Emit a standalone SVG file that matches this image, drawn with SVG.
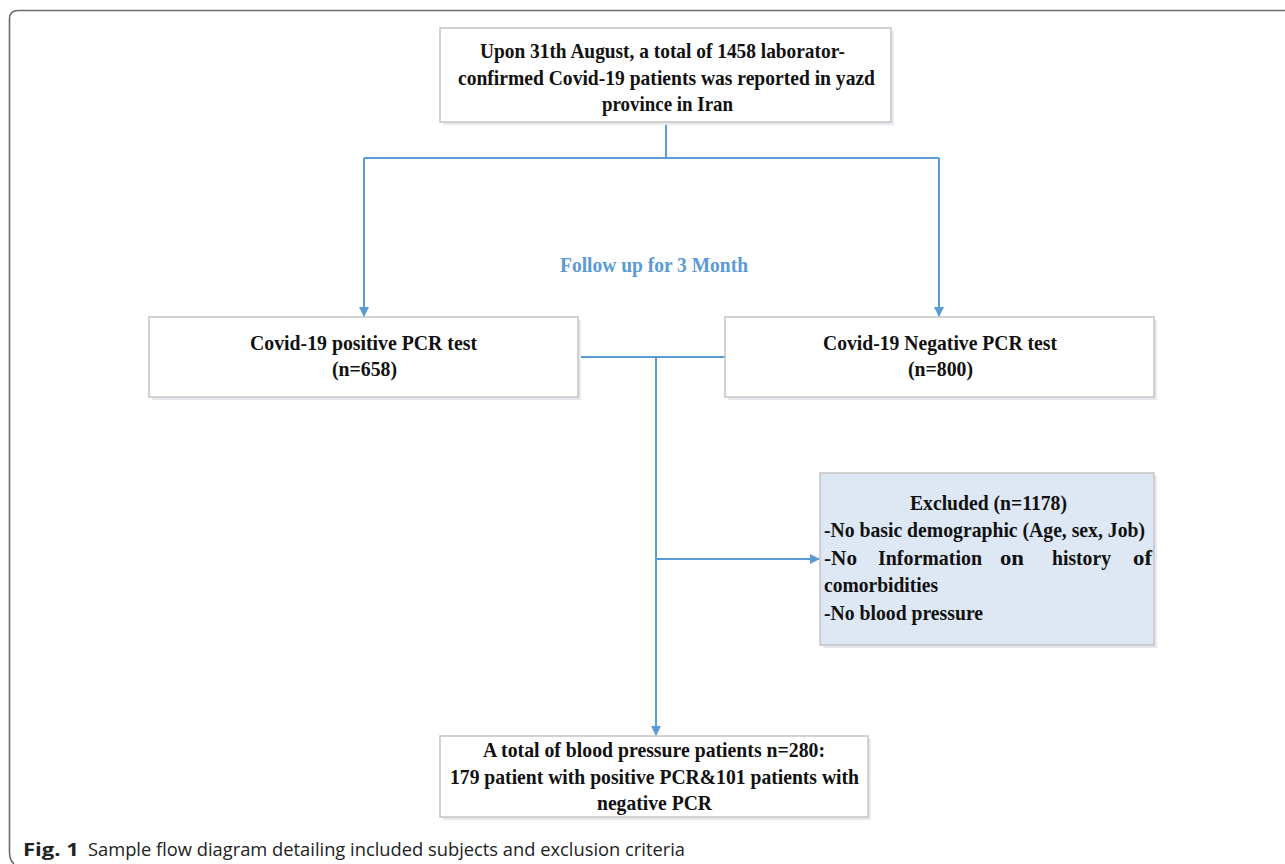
<svg xmlns="http://www.w3.org/2000/svg" width="1285" height="864" viewBox="0 0 1285 864">
<style>
.box{fill:#ffffff;stroke:#c4c4c4;stroke-width:1.5}
.shadow{fill:#e6e9ee}
.excl{fill:#dde8f4;stroke:#c4c4c4;stroke-width:1.5}
.t{font-family:"Liberation Serif","Times New Roman",serif;font-weight:bold;font-size:22px;fill:#111}
.conn{fill:none;stroke:#5b9bd5;stroke-width:2}
.lbl{font-family:"Liberation Serif",serif;font-weight:bold;font-size:21px;fill:#5b9bd5}
.cap{font-family:"Open Sans","Noto Sans",sans-serif;font-size:18px;fill:#222}
</style>
<defs>
<marker id="arr" markerWidth="10" markerHeight="10" refX="9" refY="5" orient="auto" markerUnits="userSpaceOnUse">
<path d="M0,0 L10,5 L0,10 Z" fill="#5b9bd5"/>
</marker>
</defs>
<rect width="1285" height="864" fill="#fff"/>
<path d="M1285,10.5 L18,10.5 Q9.5,10.5 9.5,19 L9.5,852 Q9.5,860 14,864" fill="none" stroke="#6b6b6b" stroke-width="1.6"/>

<g id="connectors">
<path class="conn" d="M666,122 L666,158"/>
<path class="conn" d="M364,158 L939,158"/>
<path class="conn" d="M364,158 L364,316" marker-end="url(#arr)"/>
<path class="conn" d="M939,158 L939,316" marker-end="url(#arr)"/>
<path class="conn" d="M578,357 L725,357"/>
<path class="conn" d="M656,357 L656,735" marker-end="url(#arr)"/>
<path class="conn" d="M656,559 L819,559" marker-end="url(#arr)"/>
<text class="lbl" x="560" y="272" textLength="188" lengthAdjust="spacingAndGlyphs">Follow up for 3 Month</text>
</g>

<g id="top">
<rect class="shadow" x="443" y="31" width="451" height="94"/>
<rect class="box" x="440" y="28" width="451" height="94"/>
<text class="t" x="480" y="58" textLength="365" lengthAdjust="spacingAndGlyphs">Upon 31th August, a total of 1458 laborator-</text>
<text class="t" x="458" y="85" textLength="417" lengthAdjust="spacingAndGlyphs">confirmed Covid-19 patients was reported in yazd</text>
<text class="t" x="602" y="111" textLength="131" lengthAdjust="spacingAndGlyphs">province in Iran</text>
</g>

<g id="positive">
<rect class="shadow" x="152" y="320" width="429" height="80"/>
<rect class="box" x="149" y="317" width="429" height="80"/>
<text class="t" x="250" y="350" textLength="227" lengthAdjust="spacingAndGlyphs">Covid-19 positive PCR test</text>
<text class="t" x="332" y="376" textLength="65" lengthAdjust="spacingAndGlyphs">(n=658)</text>
</g>

<g id="negative">
<rect class="shadow" x="728" y="320" width="429" height="80"/>
<rect class="box" x="725" y="317" width="429" height="80"/>
<text class="t" x="823" y="350" textLength="234" lengthAdjust="spacingAndGlyphs">Covid-19 Negative PCR test</text>
<text class="t" x="908" y="376" textLength="65" lengthAdjust="spacingAndGlyphs">(n=800)</text>
</g>

<g id="excluded">
<rect class="shadow" x="823" y="476" width="334" height="172"/>
<rect class="excl" x="820" y="473" width="334" height="172"/>
<text class="t" x="910" y="510" textLength="157" lengthAdjust="spacingAndGlyphs">Excluded (n=1178)</text>
<text class="t" x="824" y="537" textLength="321" lengthAdjust="spacingAndGlyphs">-No basic demographic (Age, sex, Job)</text>
<text class="t" x="824" y="565" textLength="33" lengthAdjust="spacingAndGlyphs">-No</text>
<text class="t" x="878" y="565" textLength="104" lengthAdjust="spacingAndGlyphs">Information</text>
<text class="t" x="1000" y="565" textLength="24" lengthAdjust="spacingAndGlyphs">on</text>
<text class="t" x="1052" y="565" textLength="59" lengthAdjust="spacingAndGlyphs">history</text>
<text class="t" x="1133" y="565" textLength="19" lengthAdjust="spacingAndGlyphs">of</text>
<text class="t" x="824" y="592" textLength="114" lengthAdjust="spacingAndGlyphs">comorbidities</text>
<text class="t" x="824" y="620" textLength="159" lengthAdjust="spacingAndGlyphs">-No blood pressure</text>
</g>

<g id="final">
<rect class="shadow" x="443" y="739" width="428" height="81"/>
<rect class="box" x="440" y="736" width="428" height="81"/>
<text class="t" x="483" y="757" textLength="342" lengthAdjust="spacingAndGlyphs">A total of blood pressure patients n=280:</text>
<text class="t" x="450" y="784" textLength="409" lengthAdjust="spacingAndGlyphs">179 patient with positive PCR&amp;101 patients with</text>
<text class="t" x="597" y="810" textLength="115" lengthAdjust="spacingAndGlyphs">negative PCR</text>
</g>

<g id="caption">
<text class="cap" x="23" y="856" font-weight="bold" textLength="56" lengthAdjust="spacingAndGlyphs">Fig. 1</text>
<text class="cap" x="88" y="856" textLength="597" lengthAdjust="spacingAndGlyphs">Sample flow diagram detailing included subjects and exclusion criteria</text>
</g>
</svg>
